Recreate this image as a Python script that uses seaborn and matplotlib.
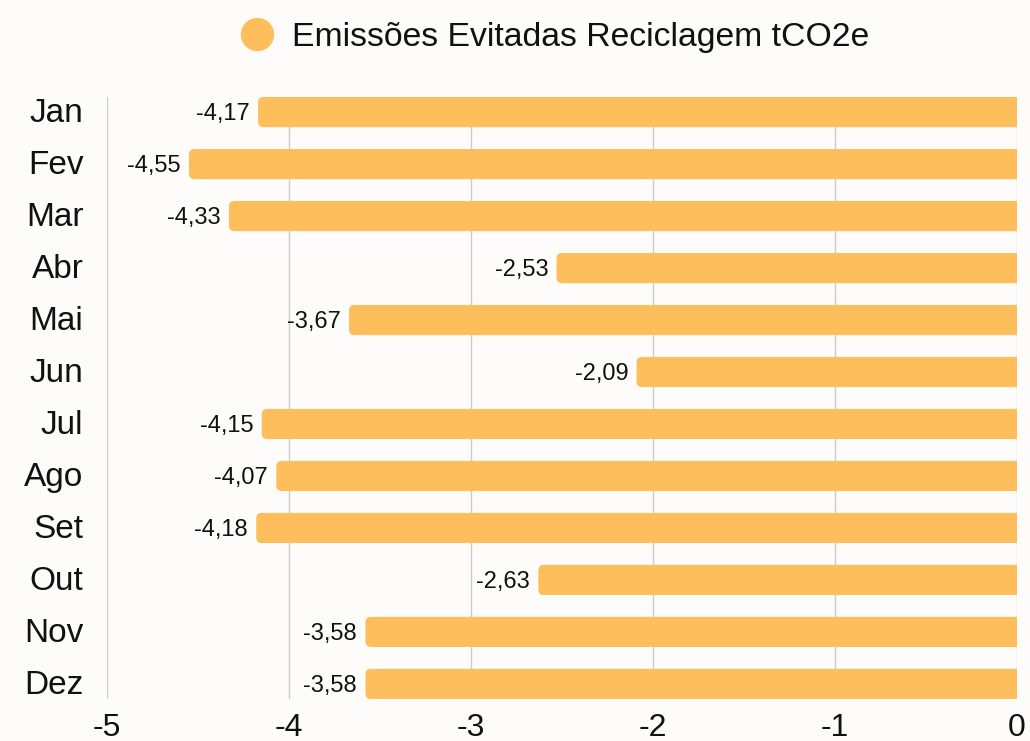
import numpy as np
import pandas as pd
import matplotlib.pyplot as plt
import matplotlib.transforms as mtransforms
import seaborn as sns
from matplotlib.patches import FancyBboxPatch
from matplotlib.lines import Line2D

months = ["Jan", "Fev", "Mar", "Abr", "Mai", "Jun", "Jul", "Ago", "Set", "Out", "Nov", "Dez"]
emissions = [-4.17, -4.55, -4.33, -2.53, -3.67, -2.09, -4.15, -4.07, -4.18, -2.63, -3.58, -3.58]
series_name = "Emissões Evitadas Reciclagem tCO2e"
x_ticks = [-5, -4, -3, -2, -1, 0]

bar_color = "#FFBE5C"
bg_color = "#FDFCFB"

df = pd.DataFrame({"mes": months, "valor": emissions})

sns.set_theme(style="white")
plt.rcParams["font.family"] = ["Liberation Sans", "DejaVu Sans"]

fig = plt.figure(figsize=(10.3, 7.41), dpi=100, facecolor=bg_color)
ax = fig.add_axes([107 / 1030, 1 - 699 / 741, 910 / 1030, 602 / 741])
ax.set_facecolor(bg_color)

sns.barplot(data=df, x="valor", y="mes", orient="h", color=bar_color,
            width=0.58, saturation=1, ax=ax, zorder=2)

ax.set_xlim(-5, 0)
ax.set_ylim(len(months) - 1 + 0.29, -0.29)

# swap plain rectangles for ones with rounded ends
rx = 0.03
aspect = (1 / 52) / (1 / 182)
for p in list(ax.patches):
    x0, y0, w, h = p.get_x(), p.get_y(), p.get_width(), p.get_height()
    left = min(x0, x0 + w)
    width = abs(w) + 0.1
    rb = FancyBboxPatch((left, y0), width, h,
                        boxstyle=f"round,pad=0,rounding_size={rx}",
                        mutation_aspect=aspect, facecolor=bar_color,
                        edgecolor="none", zorder=2, clip_on=True)
    p.remove()
    ax.add_patch(rb)

for i, v in enumerate(emissions):
    ax.annotate(f"{v:.2f}".replace(".", ","), xy=(v, i), xytext=(-6, -1.5),
                textcoords="offset points", ha="right", va="center",
                fontsize=17, color="#111111", zorder=3)

ax.set_xticks(x_ticks)
ax.set_xticklabels([str(t) for t in x_ticks])
ax.grid(axis="x", color="#CCCCCC", linewidth=1, zorder=0)
ax.grid(axis="y", visible=False)
ax.tick_params(axis="y", length=0, pad=17, labelsize=24, labelcolor="#111111")
ax.tick_params(axis="x", length=0, pad=10, labelsize=23, labelcolor="#111111")
shift_up = mtransforms.ScaledTranslation(0, 2 / 100, fig.dpi_scale_trans)
for lbl in ax.get_yticklabels():
    lbl.set_verticalalignment("center_baseline")
    lbl.set_transform(lbl.get_transform() + shift_up)
ax.set_xlabel("")
ax.set_ylabel("")
for s in ax.spines.values():
    s.set_visible(False)

handle = Line2D([], [], marker="o", linestyle="none", markersize=23,
                markerfacecolor=bar_color, markeredgecolor=bar_color)
fig.legend([handle], [series_name], loc="center", bbox_to_anchor=(0.537, 0.949),
           frameon=False, fontsize=24.3, handletextpad=0.45, handlelength=1.2,
           labelcolor="#111111")

fig.savefig("out.png", dpi=100, facecolor=bg_color)
